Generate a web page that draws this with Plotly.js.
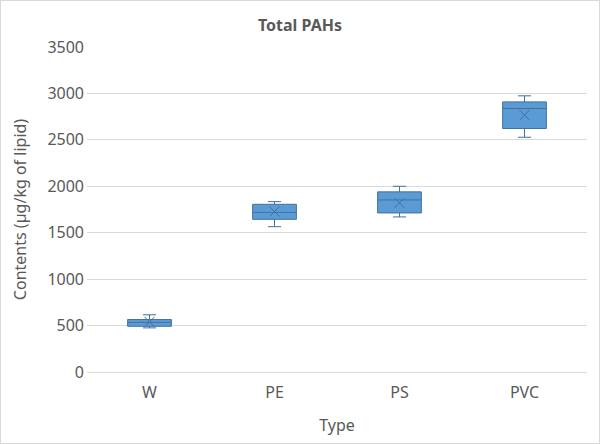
<!DOCTYPE html>
<html>
<head>
<meta charset="utf-8">
<script src="https://cdn.plot.ly/plotly-3.0.1.min.js"></script>
<style>
html,body{margin:0;padding:0;background:#fff;}
#chart{width:598px;height:442px;border:1px solid #d9d9d9;}
</style>
</head>
<body>
<div id="chart"></div>
<script>
var categories = ["W", "PE", "PS", "PVC"];
var minVals    = [475, 1565, 1670, 2528];
var q1Vals     = [492, 1644, 1713, 2622];
var medianVals = [535, 1719, 1853, 2838];
var q3Vals     = [565, 1806, 1940, 2909];
var maxVals    = [616, 1835, 2000, 2974];
var meanVals   = [540, 1728, 1821, 2766];

var fillColor = "#5B9BD5";
var lineColor = "#41719C";
var textColor = "#595959";
var fontFam = "'Noto Sans', 'Open Sans', sans-serif";

var boxTrace = {
  type: "box",
  x: categories,
  q1: q1Vals,
  median: medianVals,
  q3: q3Vals,
  lowerfence: minVals,
  upperfence: maxVals,
  fillcolor: fillColor,
  line: {color: lineColor, width: 1},
  whiskerwidth: 0.3,
  boxpoints: false,
  hoverinfo: "none",
  showlegend: false
};

var meanTrace = {
  type: "scatter",
  mode: "markers",
  x: categories,
  y: meanVals,
  marker: {symbol: "x-thin-open", size: 10, color: lineColor, line: {color: lineColor, width: 1}},
  hoverinfo: "none",
  showlegend: false
};

var layout = {
  width: 598,
  height: 442,
  margin: {l: 86, r: 12, t: 46, b: 71},
  paper_bgcolor: "#ffffff",
  plot_bgcolor: "#ffffff",
  boxgap: 0.5,
  title: {
    text: "<b>Total PAHs</b>",
    font: {family: fontFam, size: 16, color: textColor},
    x: 0.5, xanchor: "center",
    y: 0.945, yanchor: "middle"
  },
  xaxis: {
    type: "category",
    showgrid: false,
    showline: true,
    linecolor: "#d9d9d9",
    linewidth: 1,
    ticks: "",
    ticklabelstandoff: 6,
    tickfont: {family: fontFam, size: 16, color: textColor},
    title: {text: "Type", font: {family: fontFam, size: 16, color: textColor}, standoff: 17}
  },
  yaxis: {
    range: [0, 3500],
    dtick: 500,
    showgrid: true,
    gridcolor: "#d9d9d9",
    gridwidth: 1,
    zeroline: false,
    showline: false,
    ticks: "",
    ticklen: 0,
    ticklabelstandoff: 2,
    tickfont: {family: fontFam, size: 16, color: textColor},
    title: {text: "Contents (µg/kg of lipid)", font: {family: fontFam, size: 16, color: textColor}, standoff: 16}
  },
  font: {family: fontFam, color: textColor}
};

Plotly.newPlot("chart", [boxTrace, meanTrace], layout, {staticPlot: true, displayModeBar: false});
</script>
</body>
</html>
